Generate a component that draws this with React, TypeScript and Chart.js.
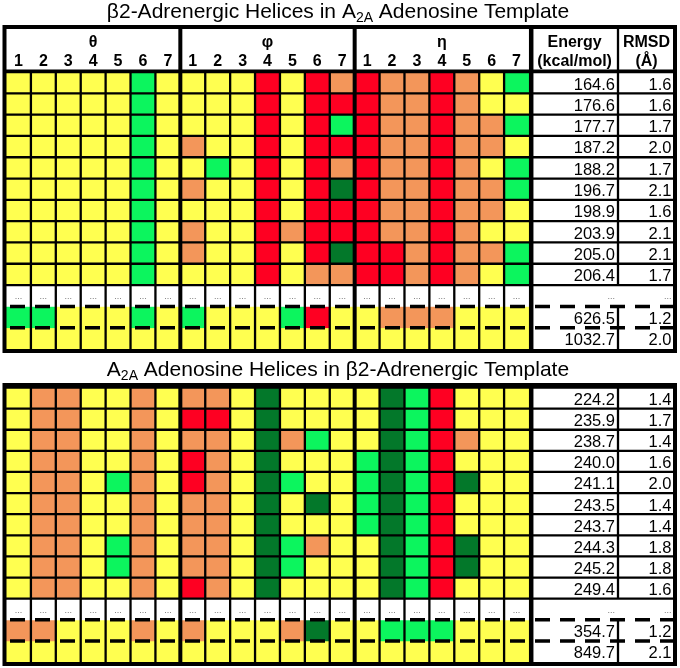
import React, { useEffect, useRef } from "react";
import { Chart, registerables } from "chart.js";

Chart.register(...registerables);

const FONT = "'Liberation Sans', Arial, Helvetica, sans-serif";

// ---------- DATA ----------
const groupLabels = ["θ", "φ", "η"];
const helixNumbers = ["1", "2", "3", "4", "5", "6", "7"];
const columnKeys = groupLabels.flatMap((g) => helixNumbers.map((n) => g + n));

// Cell codes: Y yellow, O orange, R red, G light green, D dark green
// 10 best rows, then the two rows shown after the "..." row
const topTheta = [
  "YYYYYGY", "YYYYYGY", "YYYYYGY", "YYYYYGY", "YYYYYGY",
  "YYYYYGY", "YYYYYGY", "YYYYYGY", "YYYYYGY", "YYYYYGY",
  "GGYYYGY", "YYYYYYY",
];
const topPhi = [
  "YYYRYRO", "YYYRYRR", "YYYRYRG", "OYYRYRR", "YGYRYRO",
  "OYYRYRD", "YYYRYRR", "OYYRORR", "OYYRYRD", "YYYRYOO",
  "GYYYGRY", "YYYYYYY",
];
const topEta = [
  "ROOROYG", "ROOROYY", "ROOROOG", "ROOROOY", "ROOROYG",
  "ROOROOG", "ROOROOY", "ROOROYY", "RROROOG", "RROROYG",
  "YOOOYYY", "YYYYYYY",
];
const topEnergy = [164.6, 176.6, 177.7, 187.2, 188.2, 196.7, 198.9, 203.9, 205.0, 206.4, 626.5, 1032.7];
const topRmsd = [1.6, 1.6, 1.7, 2.0, 1.7, 2.1, 1.6, 2.1, 2.1, 1.7, 1.2, 2.0];

const botTheta = [
  "YOOYYOY", "YOOYYOY", "YOOYYOY", "YOOYYOY", "YOOYGOY",
  "YOOYYOY", "YOOYYOY", "YOOYGOY", "YOOYGOY", "YOOYYOY",
  "OOYYYOY", "YYYYYYY",
];
const botPhi = [
  "OOYDYYY", "RRYDYYY", "OOYDOGY", "ROYDYYY", "ROYDGYY",
  "OOYDYDY", "OOYDYYY", "OOYDGOY", "OOYDGYY", "ROYDYYY",
  "OYYYODY", "YYYYYYY",
];
const botEta = [
  "YDGRYYY", "YDGRYYY", "YDGROYY", "GDGRYYY", "GDGRDYY",
  "GDGRYYY", "GDGRYYY", "YDGRDYY", "YDGRDYY", "YDGRYYY",
  "YGGGYYY", "YYYYYYY",
];
const botEnergy = [224.2, 235.9, 238.7, 240.0, 241.1, 243.5, 243.7, 244.3, 245.2, 249.4, 354.7, 849.7];
const botRmsd = [1.4, 1.7, 1.4, 1.6, 2.0, 1.4, 1.4, 1.8, 1.8, 1.6, 1.2, 2.1];

const topTitle = [
  { text: "β2-Adrenergic Helices in A" },
  { text: "2A", sub: true },
  { text: " Adenosine Template" },
];
const botTitle = [
  { text: "A" },
  { text: "2A", sub: true },
  { text: " Adenosine Helices in β2-Adrenergic Template" },
];
const energyHeader = ["Energy", "(kcal/mol)"];
const rmsdHeader = ["RMSD", "(Å)"];

// ---------- STYLE ----------
const palette: Record<string, string> = {
  Y: "#FFFF50",
  O: "#F3965A",
  R: "#FE0022",
  G: "#0CF55E",
  D: "#03782A",
  W: "#FFFFFF",
};

const ROWS = 13; // 10 rows + dots row + 2 rows
const DOTS_ROW = 10;

function buildDatasets(theta: string[], phi: string[], eta: string[]) {
  const ds: any[] = [];
  for (let r = 0; r < ROWS; r++) {
    const isDots = r === DOTS_ROW;
    const di = r < DOTS_ROW ? r : r - 1;
    const codes = isDots ? "W".repeat(columnKeys.length) : theta[di] + phi[di] + eta[di];
    ds.push({
      label: "row" + r,
      data: columnKeys.map(() => [r, r + 1]),
      backgroundColor: codes.split("").map((c) => palette[c]),
      borderWidth: 0,
      borderSkipped: false,
      inflateAmount: 0.4,
      grouped: false,
      barPercentage: 1,
      categoryPercentage: 1,
    });
  }
  return ds;
}

function drawParts(ctx: CanvasRenderingContext2D, parts: any[], cx: number, baseline: number) {
  const main = `21px ${FONT}`;
  const sub = `14px ${FONT}`;
  let total = 0;
  for (const p of parts) {
    ctx.font = p.sub ? sub : main;
    total += ctx.measureText(p.text).width;
  }
  let x = cx - total / 2;
  ctx.textAlign = "left";
  ctx.textBaseline = "alphabetic";
  ctx.fillStyle = "#000";
  for (const p of parts) {
    ctx.font = p.sub ? sub : main;
    ctx.fillText(p.text, x, baseline + (p.sub ? 4 : 0));
    x += ctx.measureText(p.text).width;
  }
}

interface PanelProps {
  theta: string[];
  phi: string[];
  eta: string[];
  energy: number[];
  rmsd: number[];
  title: any[];
  header: boolean;
  top: number;
  height: number;
  padTop: number;
  padBottom: number;
  borderTop: number;
  titleBaseline: number;
}

function makeDecor(p: PanelProps) {
  return {
    id: "decor",
    afterDatasetsDraw(chart: any) {
      const ctx: CanvasRenderingContext2D = chart.ctx;
      const a = chart.chartArea;
      const xs = chart.scales.x;
      const ys = chart.scales.y;
      const colX = (i: number) => xs.getPixelForValue(i);
      const rowY = (r: number) => ys.getPixelForValue(r);
      const outerL = a.left - 1.5;
      const sepE = a.right + 2.2;
      const erX = a.right + 89;
      const outerR = a.right + 146;
      const top = p.borderTop;
      const bottom = a.bottom + 2;
      const line = (x1: number, y1: number, x2: number, y2: number) => {
        ctx.beginPath();
        ctx.moveTo(x1, y1);
        ctx.lineTo(x2, y2);
        ctx.stroke();
      };

      ctx.save();
      drawParts(ctx, p.title, 338, p.titleBaseline);

      ctx.strokeStyle = "#000";
      ctx.fillStyle = "#000";

      // cell grid lines
      ctx.lineWidth = 2.3;
      for (let i = 0; i < columnKeys.length - 1; i++) {
        const bx = (colX(i) + colX(i + 1)) / 2;
        line(bx, a.top, bx, bottom);
      }
      for (let r = 0; r <= DOTS_ROW; r++) line(outerL, rowY(r), outerR, rowY(r));

      // header
      if (p.header) {
        ctx.textAlign = "center";
        ctx.textBaseline = "alphabetic";
        ctx.font = `bold 16px ${FONT}`;
        groupLabels.forEach((g, gi) => {
          const cx = (colX(gi * 7) + colX(gi * 7 + 6)) / 2;
          ctx.fillText(g, cx, top + 20);
          helixNumbers.forEach((n, ni) => ctx.fillText(n, colX(gi * 7 + ni), top + 39));
        });
        const eCx = (sepE + erX) / 2;
        const rCx = (erX + outerR) / 2;
        ctx.fillText(energyHeader[0], eCx, top + 20);
        ctx.fillText(energyHeader[1], eCx, top + 39);
        ctx.fillText(rmsdHeader[0], rCx, top + 20);
        ctx.fillText(rmsdHeader[1], rCx, top + 39);
        ctx.lineWidth = 3;
        line(outerL, a.top - 1, outerR, a.top - 1);
      }

      // energy / rmsd separator
      ctx.lineWidth = 2.3;
      line(erX, top, erX, rowY(DOTS_ROW));
      line(erX, rowY(DOTS_ROW + 1), erX, bottom);

      // energy / rmsd text
      ctx.fillStyle = "#000";
      ctx.textAlign = "right";
      ctx.textBaseline = "alphabetic";
      ctx.font = `16.5px ${FONT}`;
      for (let r = 0; r < ROWS; r++) {
        if (r === DOTS_ROW) continue;
        const di = r < DOTS_ROW ? r : r - 1;
        const y = rowY(r) + 17.5;
        ctx.fillText(p.energy[di].toFixed(1), erX - 3, y);
        ctx.fillText(p.rmsd[di].toFixed(1), outerR - 3.5, y);
      }

      // dots row
      ctx.font = `9px ${FONT}`;
      ctx.fillStyle = "#777";
      const dy = rowY(DOTS_ROW) + 14;
      ctx.textAlign = "center";
      columnKeys.forEach((_, i) => ctx.fillText("...", colX(i), dy));
      ctx.textAlign = "right";
      ctx.fillText("...", erX - 3, dy);
      ctx.fillText("...", outerR - 3.5, dy);

      // dashed separators
      ctx.strokeStyle = "#000";
      ctx.lineWidth = 3.5;
      ctx.setLineDash([15, 10]);
      ctx.lineDashOffset = -4;
      line(a.left, rowY(DOTS_ROW + 1), outerR - 2, rowY(DOTS_ROW + 1));
      line(a.left, rowY(DOTS_ROW + 2), outerR - 2, rowY(DOTS_ROW + 2));
      ctx.setLineDash([]);

      // group separators
      ctx.lineWidth = 4;
      const b1 = (colX(6) + colX(7)) / 2;
      const b2 = (colX(13) + colX(14)) / 2;
      line(b1, top, b1, bottom);
      line(b2, top, b2, bottom);
      ctx.lineWidth = 4.5;
      line(sepE, top, sepE, bottom);

      // outer border
      ctx.lineWidth = 4;
      ctx.strokeRect(outerL, top, outerR - outerL, bottom - top);
      ctx.restore();
    },
  };
}

function Panel(props: PanelProps) {
  const ref = useRef<HTMLCanvasElement>(null);
  useEffect(() => {
    if (!ref.current) return;
    const chart = new Chart(ref.current, {
      type: "bar",
      data: {
        labels: columnKeys,
        datasets: buildDatasets(props.theta, props.phi, props.eta),
      },
      options: {
        responsive: false,
        animation: false,
        events: [],
        layout: {
          padding: { left: 6, right: 151, top: props.padTop, bottom: props.padBottom },
        },
        plugins: {
          legend: { display: false },
          tooltip: { enabled: false },
          title: { display: false },
        },
        scales: {
          x: { type: "category", display: false, offset: true, grid: { display: false } },
          y: { type: "linear", display: false, min: 0, max: ROWS, reverse: true },
        },
      } as any,
      plugins: [makeDecor(props)],
    });
    return () => chart.destroy();
  }, []);
  return (
    <canvas
      ref={ref}
      width={680}
      height={props.height}
      style={{ position: "absolute", left: 0, top: props.top, width: 680, height: props.height }}
    />
  );
}

export default function App() {
  return (
    <div
      style={{
        position: "fixed",
        left: 0,
        top: 0,
        width: 680,
        height: 668,
        background: "#fff",
        overflow: "hidden",
      }}
    >
      <Panel
        theta={topTheta}
        phi={topPhi}
        eta={topEta}
        energy={topEnergy}
        rmsd={topRmsd}
        title={topTitle}
        header={true}
        top={0}
        height={356}
        padTop={72}
        padBottom={7}
        borderTop={27}
        titleBaseline={18}
      />
      <Panel
        theta={botTheta}
        phi={botPhi}
        eta={botEta}
        energy={botEnergy}
        rmsd={botRmsd}
        title={botTitle}
        header={false}
        top={355}
        height={313}
        padTop={32.5}
        padBottom={6}
        borderTop={30}
        titleBaseline={21}
      />
    </div>
  );
}
